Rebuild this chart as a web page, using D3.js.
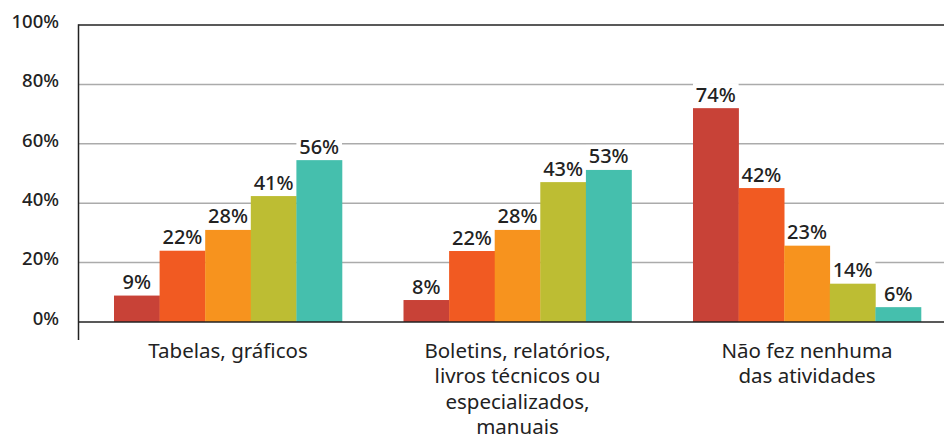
<!DOCTYPE html>
<html>
<head>
<meta charset="utf-8">
<script src="https://cdn.jsdelivr.net/npm/d3@7"></script>
<style>
body { margin: 0; background: #fff; }
svg { display: block; font-family: "Noto Sans", sans-serif; }
</style>
</head>
<body>
<script>
(function(){

// categories (multi-line labels)
var categories = ["Tabelas, gráficos", "Boletins, relatórios, livros técnicos ou especializados, manuais", "Não fez nenhuma das atividades"];
var categoryLines = [
    ["Tabelas, gráficos"],
    ["Boletins, relatórios,", "livros técnicos ou", "especializados,", "manuais"],
    ["Não fez nenhuma", "das atividades"]
];

// series keys and colours
var series = ["s1", "s2", "s3", "s4", "s5"];
var colors = ["#C84237", "#F15A22", "#F7931E", "#BDBD33", "#45BFAD"];

// bar heights as drawn in the picture (percent)
var s1 = [8.9, 7.4, 72.0];
var s2 = [24.0, 23.9, 45.1];
var s3 = [31.0, 31.0, 25.7];
var s4 = [42.4, 47.1, 12.9];
var s5 = [54.5, 51.2, 5.0];
var values = [s1, s2, s3, s4, s5];

// value labels printed above bars
var l1 = ["9%", "8%", "74%"];
var l2 = ["22%", "22%", "42%"];
var l3 = ["28%", "28%", "23%"];
var l4 = ["41%", "43%", "14%"];
var l5 = ["56%", "53%", "6%"];
var labels = [l1, l2, l3, l4, l5];

// y ticks
var yTicks = [0, 20, 40, 60, 80, 100];

var width = 944, height = 440;
var axisX = 78.5, baseY = 322, topY = 25;

var svg = d3.select("body").append("svg")
    .attr("width", width)
    .attr("height", height);

var y = d3.scaleLinear().domain([0, 100]).range([baseY, topY]);

var x0 = d3.scaleBand()
    .domain(categories)
    .range([114, 921])
    .paddingInner(61.5 / 289.5)
    .paddingOuter(0);

var x1 = d3.scaleBand()
    .domain(series)
    .range([0, x0.bandwidth()])
    .padding(0);

// gridlines
svg.append("g").selectAll("line.grid")
    .data(yTicks.filter(function(d){ return d > 0 && d < 100; }))
    .enter().append("line")
    .attr("x1", axisX).attr("x2", width)
    .attr("y1", function(d){ return y(d); })
    .attr("y2", function(d){ return y(d); })
    .attr("stroke", "#ababab")
    .attr("stroke-width", 1.5);

// y tick labels
svg.append("g").selectAll("text")
    .data(yTicks)
    .enter().append("text")
    .attr("x", 59)
    .attr("y", function(d){ return y(d) + 2.7; })
    .attr("text-anchor", "end")
    .attr("font-size", 18.5)
    .attr("font-weight", 500)
    .attr("fill", "#222")
    .text(function(d){ return d + "%"; });

// flatten data
var flat = [];
categories.forEach(function(c, i){
    series.forEach(function(s, j){
        flat.push({cat: c, ser: s, j: j, v: values[j][i], label: labels[j][i]});
    });
});

// label backgrounds (knock out gridlines)
svg.append("g").selectAll("rect")
    .data(flat)
    .enter().append("rect")
    .attr("x", function(d){ return x0(d.cat) + x1(d.ser); })
    .attr("y", function(d){ return y(d.v) - 25; })
    .attr("width", x1.bandwidth())
    .attr("height", 25)
    .attr("fill", "#fff");

// bars
svg.append("g").selectAll("rect")
    .data(flat)
    .enter().append("rect")
    .attr("x", function(d){ return x0(d.cat) + x1(d.ser); })
    .attr("y", function(d){ return y(d.v); })
    .attr("width", x1.bandwidth() + 0.3)
    .attr("height", function(d){ return baseY - y(d.v); })
    .attr("fill", function(d){ return colors[d.j]; });

// value labels
svg.append("g").selectAll("text")
    .data(flat)
    .enter().append("text")
    .attr("x", function(d){ return x0(d.cat) + x1(d.ser) + x1.bandwidth() / 2; })
    .attr("y", function(d){ return y(d.v) - 6.5; })
    .attr("text-anchor", "middle")
    .attr("font-size", 20)
    .attr("font-weight", 500)
    .attr("fill", "#222")
    .text(function(d){ return d.label; });

// frame: top line, baseline, left axis
svg.append("line")
    .attr("x1", axisX).attr("x2", width)
    .attr("y1", topY).attr("y2", topY)
    .attr("stroke", "#222").attr("stroke-width", 1.5);
svg.append("line")
    .attr("x1", axisX).attr("x2", width)
    .attr("y1", baseY).attr("y2", baseY)
    .attr("stroke", "#222").attr("stroke-width", 1.5);
svg.append("line")
    .attr("x1", axisX).attr("x2", axisX)
    .attr("y1", topY - 0.75).attr("y2", 340)
    .attr("stroke", "#222").attr("stroke-width", 1.5);

// category labels
var cat = svg.append("g").selectAll("text")
    .data(categories)
    .enter().append("text")
    .attr("text-anchor", "middle")
    .attr("font-size", 20.5)
    .attr("fill", "#222")
    .attr("transform", function(d){ return "translate(" + (x0(d) + x0.bandwidth() / 2) + ",357.5)"; });

cat.selectAll("tspan")
    .data(function(d, i){ return categoryLines[i]; })
    .enter().append("tspan")
    .attr("x", 0)
    .attr("y", function(d, i){ return i * 25.5; })
    .text(function(d){ return d; });

})();
</script>
</body>
</html>
